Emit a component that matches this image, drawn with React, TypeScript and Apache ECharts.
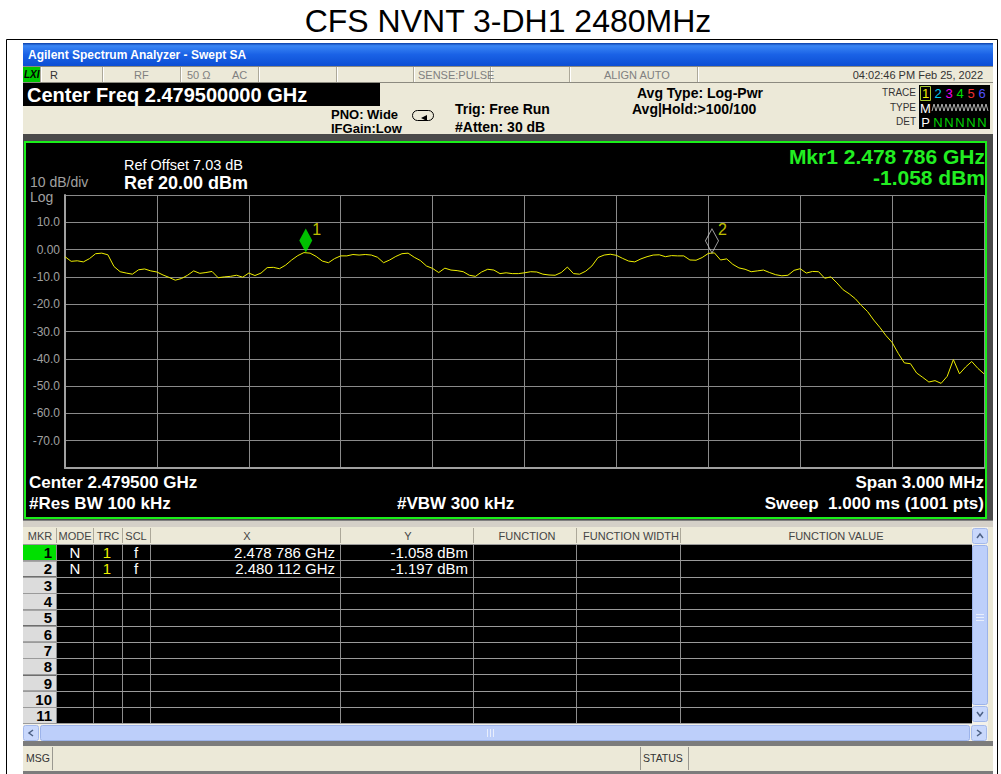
import React, { useEffect, useRef } from "react";
import * as echarts from "echarts";

// ---------- data ----------
const START_KHZ = 2478000;
const STOP_KHZ = 2481000;
const STEP_KHZ = 20; // trace sample spacing
const GRID_KHZ = 300;
const REF_DBM = 20;
const BOTTOM_DBM = -80;
const DB_PER_DIV = 10;

const traceDbm = [
  -2.6, -4.3, -4.1, -4.5, -3.3, -1.5, -1.3, -1.9, -6.2, -8.1,
  -8.6, -9.0, -7.4, -7.1, -7.8, -8.2, -9.3, -10.2, -11.2, -10.6,
  -9.4, -7.8, -8.7, -8.4, -8.0, -10.3, -10.0, -9.8, -9.4, -10.1,
  -8.6, -9.5, -8.6, -6.6, -6.5, -7.0, -5.7, -3.8, -2.2, -1.1,
  -1.3, -2.5, -4.2, -4.8, -3.3, -2.3, -2.3, -1.8, -2.0, -1.8,
  -2.0, -2.8, -4.8, -3.8, -2.5, -1.5, -1.3, -2.8, -4.0, -6.0,
  -6.9, -8.4, -6.8, -7.5, -7.7, -8.1, -9.4, -9.8, -8.2, -7.2,
  -7.5, -8.8, -8.5, -8.8, -8.8, -8.5, -8.1, -8.2, -9.0, -9.3,
  -9.4, -8.4, -6.4, -8.8, -9.0, -7.9, -6.0, -2.9, -2.0, -1.7,
  -2.1, -3.2, -4.2, -4.5, -3.4, -2.6, -2.0, -1.9, -2.6, -2.2,
  -2.3, -2.3, -3.8, -3.9, -2.9, -1.4, -1.2, -3.8, -3.4, -5.4,
  -6.7, -7.2, -8.1, -7.8, -7.5, -8.4, -9.2, -9.6, -9.4, -7.6,
  -7.0, -8.6, -8.0, -8.1, -10.5, -10.0, -12.2, -14.7, -16.2, -18.0,
  -20.5, -22.7, -25.8, -28.5, -31.5, -34.0, -38.0, -41.5, -41.8, -45.2,
  -46.8, -48.5, -48.0, -49.0, -46.4, -40.3, -45.5, -43.0, -41.0, -43.5,
  -45.5,
];

const markerIds = ["1", "2"];
const markerKhz = [2478786, 2480112];
const markerDbm = [-1.058, -1.197];
const markerModes = ["N", "N"];
const markerTraces = ["1", "1"];
const markerScales = ["f", "f"];

const tableHeaders = ["MKR", "MODE", "TRC", "SCL", "X", "Y", "FUNCTION", "FUNCTION WIDTH", "FUNCTION VALUE"];
const tableRows = 11;

const FONT = '"Liberation Sans", Arial, sans-serif';
const NARROW = '"Liberation Sans Narrow", "Liberation Sans", Arial, sans-serif';

function fmtFreq(khz: number) {
  const ghz = (khz / 1e6).toFixed(6);
  return ghz.slice(0, 5) + " " + ghz.slice(5) + " GHz";
}

function txt(x: number, y: number, text: string, size: number, color: string, o: any = {}) {
  return {
    type: "text",
    x,
    y,
    z: 30,
    silent: true,
    style: {
      text,
      fill: color,
      fontSize: size,
      fontFamily: o.font || FONT,
      fontWeight: o.bold ? "bold" : "normal",
      fontStyle: o.italic ? "italic" : "normal",
      align: o.align || "left",
      textAlign: o.align || "left",
      verticalAlign: "middle",
      textVerticalAlign: "middle",
    },
  };
}
function rect(x: number, y: number, w: number, h: number, fill: any, o: any = {}) {
  return {
    type: "rect",
    z: o.z ?? 1,
    silent: true,
    shape: { x, y, width: w, height: h, r: o.r || 0 },
    style: { fill, stroke: o.stroke || null, lineWidth: o.lw || 1 },
  };
}
function ln(x1: number, y1: number, x2: number, y2: number, color: string, w = 1, z = 2) {
  return {
    type: "line",
    z,
    silent: true,
    shape: { x1, y1, x2, y2 },
    style: { stroke: color, lineWidth: w },
  };
}

function buildGraphics() {
  const g: any[] = [];
  // outer frame of the report cell
  g.push(ln(6.5, 39.5, 997.5, 39.5, "#000", 1, 1));
  g.push(ln(6.5, 39.5, 6.5, 774, "#000", 1, 1));
  g.push(ln(997.5, 39.5, 997.5, 774, "#000", 1, 1));
  // title
  g.push(txt(508, 21, "CFS NVNT 3-DH1 2480MHz", 32, "#000", { align: "center" }));

  // screenshot base
  g.push(rect(23, 43, 970, 731, "#ece9d8", { z: 0 }));
  // title bar
  g.push(
    rect(23, 43, 970, 23, {
      type: "linear", x: 0, y: 0, x2: 0, y2: 1,
      colorStops: [
        { offset: 0, color: "#0a3ea8" },
        { offset: 0.12, color: "#3a86f5" },
        { offset: 0.5, color: "#1a62e6" },
        { offset: 1, color: "#0c4ed4" },
      ],
    })
  );
  g.push(txt(28, 55, "Agilent Spectrum Analyzer - Swept SA", 12, "#fff", { bold: true }));

  // status row 1
  g.push(rect(23, 66, 970, 16, "#ece9d8"));
  g.push(ln(23, 66.5, 993, 66.5, "#8c8a80"));
  g.push(ln(23, 82.5, 993, 82.5, "#8c8a80"));
  [40, 102, 180, 258, 336, 413, 490, 569, 697].forEach((x) => {
    g.push(ln(x + 0.5, 67, x + 0.5, 82, "#aca899"));
    g.push(ln(x + 1.5, 67, x + 1.5, 82, "#ffffff"));
  });
  g.push(rect(23, 67, 17, 15, "#00c800", { z: 3 }));
  g.push(txt(24, 74.5, "LXI", 10, "#000", { bold: true, italic: true }));
  g.push(txt(50, 74.5, "R", 11, "#333"));
  g.push(txt(134, 74.5, "RF", 11, "#808080"));
  g.push(txt(187, 74.5, "50 Ω", 11, "#808080"));
  g.push(txt(232, 74.5, "AC", 11, "#808080"));
  g.push(txt(418, 74.5, "SENSE:PULSE", 11, "#808080"));
  g.push(txt(604, 74.5, "ALIGN AUTO", 11, "#808080"));
  g.push(txt(983, 74.5, "04:02:46 PM Feb 25, 2022", 11, "#333", { align: "right" }));

  // row 2
  g.push(rect(23, 83, 357, 23, "#000", { z: 3 }));
  g.push(txt(27, 95, "Center Freq 2.479500000 GHz", 20, "#fff", { bold: true }));
  g.push(txt(331, 114, "PNO: Wide", 13, "#000", { bold: true }));
  g.push(txt(331, 128, "IFGain:Low", 13, "#000", { bold: true }));
  g.push({
    type: "rect", z: 3, silent: true,
    shape: { x: 412.5, y: 110.5, width: 21, height: 10, r: 5 },
    style: { fill: null, stroke: "#000", lineWidth: 1 },
  });
  g.push({
    type: "polygon", z: 4, silent: true,
    shape: { points: [[421, 118], [427, 115], [427, 121]] },
    style: { fill: "#000" },
  });
  g.push(txt(455, 109, "Trig: Free Run", 14, "#000", { bold: true }));
  g.push(txt(455, 127, "#Atten: 30 dB", 14, "#000", { bold: true }));
  g.push(txt(637, 93, "Avg Type: Log-Pwr", 14, "#000", { bold: true }));
  g.push(txt(632, 109, "Avg|Hold:>100/100", 14, "#000", { bold: true }));

  // trace box
  g.push(txt(916, 92, "TRACE", 10, "#333", { align: "right" }));
  g.push(txt(916, 107, "TYPE", 10, "#333", { align: "right" }));
  g.push(txt(916, 121, "DET", 10, "#333", { align: "right" }));
  g.push(rect(919, 85, 71, 44, "#000", { z: 3 }));
  g.push({
    type: "rect", z: 4, silent: true,
    shape: { x: 920.5, y: 86.5, width: 10, height: 14 },
    style: { fill: null, stroke: "#a8c832", lineWidth: 1 },
  });
  const tx = [925.5, 938, 949, 960, 971, 982];
  const tcol = ["#f0f000", "#00c8f0", "#f000f0", "#00e000", "#f03030", "#5050ff"];
  tx.forEach((x, i) => g.push(txt(x, 93.5, String(i + 1), 13, tcol[i], { align: "center" })));
  g.push(txt(925.5, 108, "M", 13, "#fff", { align: "center" }));
  const wave: number[][] = [];
  for (let k = 0; k <= 28; k++) wave.push([932 + k * 2, k % 2 ? 104 : 111]);
  g.push({ type: "polyline", z: 4, silent: true, shape: { points: wave }, style: { stroke: "#b0b0b0", lineWidth: 1, fill: null } });
  g.push(txt(925.5, 122, "P", 13, "#fff", { align: "center" }));
  tx.slice(1).forEach((x) => g.push(txt(x, 122, "N", 13, "#00d000", { align: "center" })));

  // dark frame and panel
  g.push(rect(23, 134, 970, 393, "#4a4a4a", { z: 1 }));
  g.push(rect(25, 142, 961, 376, "#000", { z: 1, stroke: "#1aee1a", lw: 2 }));

  // panel texts
  g.push(txt(124, 165, "Ref Offset 7.03 dB", 14.5, "#fff"));
  g.push(txt(124, 183, "Ref 20.00 dBm", 18, "#fff", { bold: true }));
  g.push(txt(30, 182, "10 dB/div", 14, "#a0a0a0"));
  g.push(txt(30, 197, "Log", 14, "#a0a0a0"));
  g.push(txt(985, 156, "Mkr1 " + fmtFreq(markerKhz[0]), 21, "#22ee22", { bold: true, align: "right" }));
  g.push(txt(985, 177, markerDbm[0].toFixed(3) + " dBm", 21, "#22ee22", { bold: true, align: "right" }));
  g.push(txt(29, 482, "Center 2.479500 GHz", 17, "#fff", { bold: true }));
  g.push(txt(29, 503, "#Res BW 100 kHz", 17, "#fff", { bold: true }));
  g.push(txt(397, 503, "#VBW 300 kHz", 17, "#fff", { bold: true }));
  g.push(txt(984, 482, "Span 3.000 MHz", 17, "#fff", { bold: true, align: "right" }));
  g.push(txt(984, 503, "Sweep  1.000 ms (1001 pts)", 17, "#fff", { bold: true, align: "right" }));

  // between panel and table
  g.push(rect(23, 520, 970, 7, "#d4d0c8", { z: 1 }));
  g.push(ln(23, 520.5, 993, 520.5, "#808080"));

  // table
  const colX = [23, 56, 93, 122, 150, 340, 473, 576, 680, 972];
  const hdrCenters = [40, 75, 108, 136, 247, 408, 527, 631, 836];
  g.push(rect(23, 527, 949, 17, "#ece9d8", { z: 1 }));
  g.push(rect(23, 544, 949, 180, "#000", { z: 1 }));
  tableHeaders.forEach((h, i) => g.push(txt(hdrCenters[i], 535.5, h, 11, "#444", { align: "center" })));
  colX.slice(1, -1).forEach((x) => {
    g.push(ln(x + 0.5, 528, x + 0.5, 543, "#aca899"));
    g.push(ln(x + 0.5, 544, x + 0.5, 723, "#8c8c8c"));
  });
  const rowH = 16.3;
  for (let r = 0; r < tableRows; r++) {
    const top = 544 + r * rowH;
    g.push(rect(23, top + 1, 33, rowH - 1, r === 0 ? "#00e000" : "#dcdcdc", { z: 3 }));
    g.push(txt(52, top + rowH / 2 + 0.5, String(r + 1), 15, "#000", { bold: true, align: "right", font: NARROW }));
  }
  for (let r = 0; r <= tableRows; r++) {
    const y = Math.round(544 + r * rowH) + 0.5;
    g.push(ln(23, y, 972, y, "#9a9a9a", 1, 4));
  }
  markerIds.forEach((_, i) => {
    const yc = 544 + i * rowH + rowH / 2 + 0.5;
    g.push(txt(75, yc, markerModes[i], 15, "#fff", { align: "center" }));
    g.push(txt(107, yc, markerTraces[i], 15, "#f0f000", { align: "center" }));
    g.push(txt(136, yc, markerScales[i], 15, "#fff", { align: "center" }));
    g.push(txt(335, yc, fmtFreq(markerKhz[i]), 15, "#fff", { align: "right" }));
    g.push(txt(468, yc, markerDbm[i].toFixed(3) + " dBm", 15, "#fff", { align: "right" }));
  });

  // vertical scrollbar
  g.push(rect(972, 527, 16, 197, "#f3f1ea", { z: 3 }));
  g.push(rect(972.5, 528.5, 15, 15, "#c9d8fc", { z: 4, stroke: "#a4b9ea", r: 2 }));
  g.push(rect(972.5, 545.5, 15, 159, "#bdcffa", { z: 4, stroke: "#9cb3ea", r: 2 }));
  g.push(rect(972.5, 706.5, 15, 15, "#c9d8fc", { z: 4, stroke: "#a4b9ea", r: 2 }));
  [614, 617, 620].forEach((y) => g.push(ln(976, y + 0.5, 984, y + 0.5, "#e8eefc", 1, 5)));
  g.push({ type: "polyline", z: 5, silent: true, shape: { points: [[977, 538], [980, 534], [983, 538]] }, style: { stroke: "#4d6185", lineWidth: 1.5, fill: null } });
  g.push({ type: "polyline", z: 5, silent: true, shape: { points: [[977, 712], [980, 716], [983, 712]] }, style: { stroke: "#4d6185", lineWidth: 1.5, fill: null } });
  // horizontal scrollbar
  g.push(rect(23, 724, 965, 17, "#f3f1ea", { z: 3 }));
  g.push(rect(23.5, 725.5, 15, 15, "#c9d8fc", { z: 4, stroke: "#a4b9ea", r: 2 }));
  g.push(rect(40.5, 725.5, 929, 15, "#bdcffa", { z: 4, stroke: "#9cb3ea", r: 2 }));
  g.push(rect(971.5, 725.5, 15, 15, "#c9d8fc", { z: 4, stroke: "#a4b9ea", r: 2 }));
  [487, 490, 493].forEach((x) => g.push(ln(x + 0.5, 729, x + 0.5, 737, "#e8eefc", 1, 5)));
  g.push({ type: "polyline", z: 5, silent: true, shape: { points: [[33, 730], [29, 733], [33, 736]] }, style: { stroke: "#4d6185", lineWidth: 1.5, fill: null } });
  g.push({ type: "polyline", z: 5, silent: true, shape: { points: [[977, 730], [981, 733], [977, 736]] }, style: { stroke: "#4d6185", lineWidth: 1.5, fill: null } });

  // message bar
  g.push(rect(23, 741, 970, 5, "#7c7c7c", { z: 3 }));
  g.push(rect(23, 746, 970, 25, "#ece9d8", { z: 3 }));
  [52, 640, 688].forEach((x) => g.push(ln(x + 0.5, 747, x + 0.5, 770, "#9a9890", 1, 4)));
  g.push(txt(26, 758, "MSG", 10.5, "#333"));
  g.push(txt(643, 758, "STATUS", 10.5, "#333"));
  g.push(rect(23, 771, 970, 3, "#7c7c7c", { z: 3 }));
  return g;
}

export default function App() {
  const ref = useRef<HTMLDivElement>(null);
  useEffect(() => {
    if (!ref.current) return;
    const chart = echarts.init(ref.current, null, { renderer: "svg" });
    const traceData = traceDbm.map((v, i) => [START_KHZ + i * STEP_KHZ, v]);
    const markerSeries = markerIds.map((id, i) => ({
      type: "scatter",
      name: "Marker " + id,
      z: 14,
      data: [[markerKhz[i], markerDbm[i]]],
      symbol: "diamond",
      symbolSize: [13, 24],
      symbolOffset: [0, "-50%"],
      itemStyle:
        i === 0
          ? { color: "#00f000" }
          : { color: "rgba(0,0,0,0)", borderColor: "#d0d0d0", borderWidth: 1 },
      label: {
        show: true,
        formatter: id,
        position: [13, -7],
        color: "#f0f000",
        fontSize: 16,
        fontFamily: FONT,
      },
    }));
    chart.setOption({
      animation: false,
      backgroundColor: "#ffffff",
      graphic: { elements: buildGraphics() },
      grid: { left: 65, top: 195, width: 919, height: 273, containLabel: false },
      xAxis: {
        type: "value",
        z: 10,
        min: START_KHZ,
        max: STOP_KHZ,
        interval: GRID_KHZ,
        axisLabel: { show: false },
        axisTick: { show: false },
        axisLine: { show: true, onZero: false, lineStyle: { color: "#a0a0a0", width: 2 } },
        splitLine: { show: true, lineStyle: { color: "#8a8a8a", width: 1 } },
      },
      yAxis: {
        type: "value",
        z: 10,
        min: BOTTOM_DBM,
        max: REF_DBM,
        interval: DB_PER_DIV,
        axisTick: { show: false },
        axisLine: { show: true, onZero: false, lineStyle: { color: "#a0a0a0", width: 2 } },
        splitLine: { show: true, lineStyle: { color: "#8a8a8a", width: 1 } },
        axisLabel: {
          color: "#a0a0a0",
          fontSize: 12,
          fontFamily: FONT,
          margin: 5,
          formatter: (v: number) =>
            v === REF_DBM || v === BOTTOM_DBM ? "" : v === 0 ? "0.00" : v.toFixed(1),
        },
      },
      series: [
        {
          type: "line",
          name: "Trace 1",
          data: traceData,
          showSymbol: false,
          z: 12,
          lineStyle: { color: "#eeee00", width: 1 },
        },
        ...markerSeries,
      ],
    });
    return () => chart.dispose();
  }, []);
  return (
    <div
      ref={ref}
      style={{ position: "fixed", left: 0, top: 0, width: 1001, height: 774, background: "#fff" }}
    />
  );
}
